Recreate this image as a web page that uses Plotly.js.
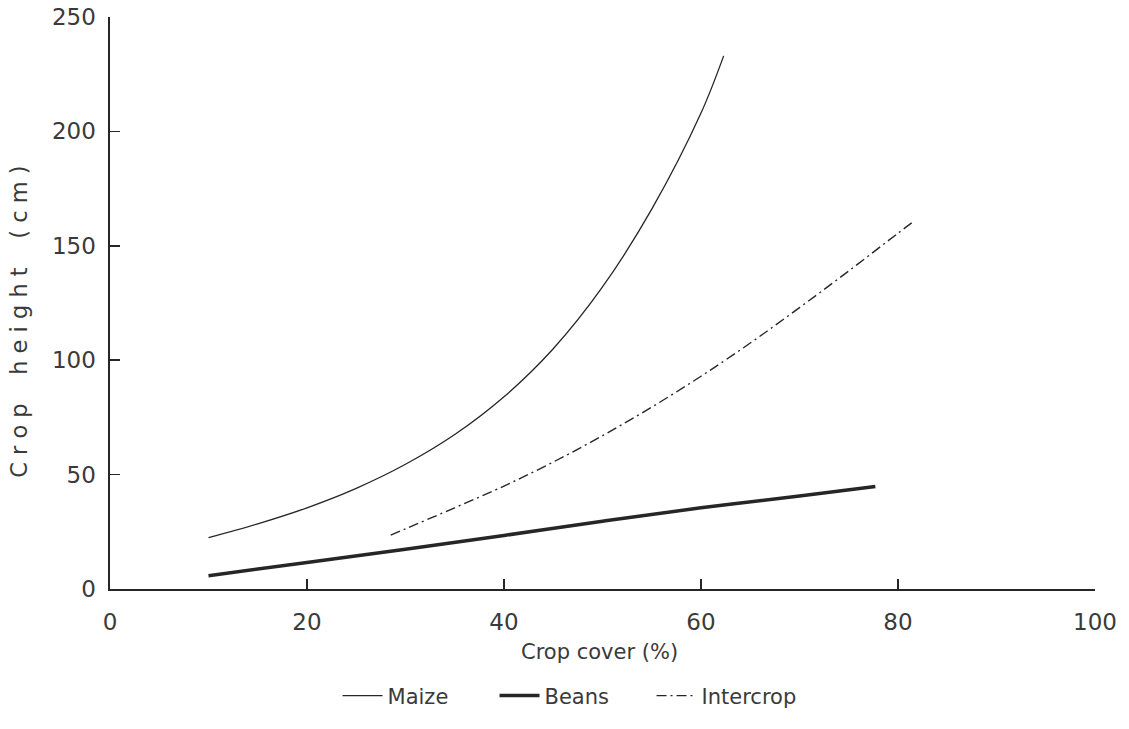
<!DOCTYPE html>
<html>
<head>
<meta charset="utf-8">
<script src="https://cdn.plot.ly/plotly-3.0.1.min.js"></script>
<style>html,body{margin:0;padding:0;background:#fff;}#chart{width:1129px;height:729px;}</style>
</head>
<body>
<div id="chart"></div>
<script>
// Crop cover (%) vs crop height (cm)
const maizeCover = [10, 15, 20, 25, 30, 35, 40, 45, 50, 55, 60, 62.3];
const maizeHeight = [22.5, 28.5, 35.5, 44, 54.5, 67.5, 84, 105, 132, 166, 208, 233];

const beansCover = [10, 20, 30, 40, 50, 60, 70, 77.7];
const beansHeight = [5.8, 11.6, 17.4, 23.4, 29.6, 35.5, 40.6, 44.8];

const intercropCover = [28.5, 30, 35, 40, 45, 50, 55, 60, 65, 70, 75, 80, 81.7];
const intercropHeight = [23.5, 26.3, 35.5, 45, 55.5, 67, 79.5, 93, 107.5, 123, 139, 155.5, 161];

const xTicks = [0, 20, 40, 60, 80, 100];
const yTicks = [0, 50, 100, 150, 200, 250];

const ink = '#262626';
const textInk = '#3a3a3a';

const traces = [
  {x: maizeCover, y: maizeHeight, name: 'Maize', mode: 'lines',
   line: {color: ink, width: 1.3, shape: 'spline', smoothing: 1}},
  {x: beansCover, y: beansHeight, name: 'Beans', mode: 'lines',
   line: {color: ink, width: 3.5, shape: 'spline', smoothing: 1}},
  {x: intercropCover, y: intercropHeight, name: 'Intercrop', mode: 'lines',
   line: {color: ink, width: 1.4, shape: 'spline', smoothing: 1, dash: '10px,4px,2px,4px'}}
];

const axisCommon = {
  showgrid: false, zeroline: false, showline: true,
  linecolor: ink, linewidth: 1.6,
  ticks: 'inside', ticklen: 10, tickwidth: 1.6, tickcolor: ink,
  tickfont: {family: 'DejaVu Sans', size: 23, color: textInk},
  fixedrange: true
};

const layout = {
  width: 1129, height: 729,
  margin: {l: 110, r: 34, t: 17, b: 134},
  paper_bgcolor: '#ffffff', plot_bgcolor: '#ffffff',
  showlegend: true,
  legend: {
    orientation: 'h', x: 0.231, xanchor: 'left', y: -0.187, yanchor: 'middle',
    font: {family: 'DejaVu Sans', size: 21, color: textInk},
    entrywidth: 102, entrywidthmode: 'pixels',
    itemwidth: 40, tracegroupgap: 0, bgcolor: 'rgba(0,0,0,0)'
  },
  xaxis: Object.assign({}, axisCommon, {
    range: [0, 100], tickvals: xTicks, ticktext: xTicks.map(String),
    ticklabelstandoff: 12
  }),
  yaxis: Object.assign({}, axisCommon, {
    range: [0, 250], tickvals: yTicks, ticktext: yTicks.map(String),
    ticklabelstandoff: 8
  }),
  annotations: [
    {text: 'Crop cover (%)', xref: 'paper', yref: 'paper', x: 0.497, y: -0.11,
     xanchor: 'center', yanchor: 'middle', showarrow: false,
     font: {family: 'DejaVu Sans', size: 21, color: textInk}},
    {text: 'C r o p    h e i g h t    ( c m )', xref: 'paper', yref: 'paper', x: -0.0924, y: 0.467,
     xanchor: 'center', yanchor: 'middle', textangle: -90, showarrow: false,
     font: {family: 'DejaVu Sans', size: 22.5, color: textInk}}
  ]
};

Plotly.newPlot('chart', traces, layout, {staticPlot: true, displayModeBar: false});
</script>
</body>
</html>
